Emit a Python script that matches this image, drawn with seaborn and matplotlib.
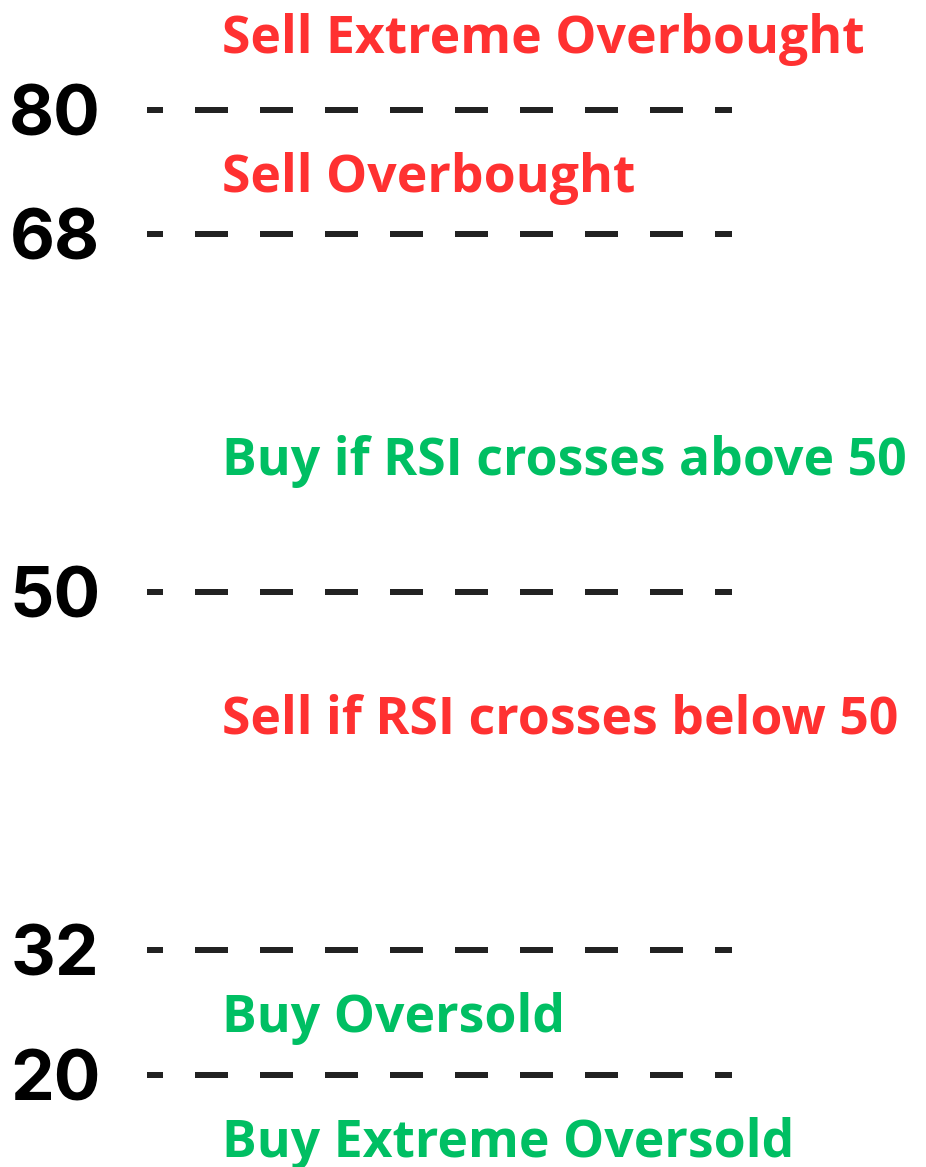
import numpy as np
import pandas as pd
import matplotlib
matplotlib.use("Agg")
import matplotlib.pyplot as plt
import seaborn as sns

# ---------------- data ----------------
LEVELS = [80, 68, 50, 32, 20]
TICK_LABELS = ["80", "68", "50", "32", "20"]

NOTE_TEXTS = [
    "Sell Extreme Overbought",
    "Sell Overbought",
    "Buy if RSI crosses above 50",
    "Sell if RSI crosses below 50",
    "Buy Oversold",
    "Buy Extreme Oversold",
]
NOTE_VALUES = [85.5, 72.0, 55.9, 42.9, 24.1, 12.1]
NOTE_KIND = ["sell", "sell", "buy", "sell", "buy", "buy"]

# ---------------- style / layout ----------------
RED = "#FF3131"
GREEN = "#00BF63"
LINE_COLOR = "#222222"
FONT = ["Open Sans", "DejaVu Sans"]
NUM_FONT = ["Inter", "Open Sans", "DejaVu Sans"]

W, H, DPI = 926, 1167, 100
PX = 72.0 / DPI  # points per pixel

# schematic (non-linear) vertical scale: level -> vertical position (fraction from top)
ANCHOR_POS = np.array([1075, 950, 592, 233.7, 109.7]) / H  # for 20, 32, 50, 68, 80
ANCHOR_VAL = np.array([20, 32, 50, 68, 80], dtype=float)


def _fwd(v):
    v = np.asarray(v, dtype=float)
    p = np.interp(v, ANCHOR_VAL, ANCHOR_POS)
    lo_s = (ANCHOR_POS[1] - ANCHOR_POS[0]) / (ANCHOR_VAL[1] - ANCHOR_VAL[0])
    hi_s = (ANCHOR_POS[-1] - ANCHOR_POS[-2]) / (ANCHOR_VAL[-1] - ANCHOR_VAL[-2])
    p = np.where(v < ANCHOR_VAL[0], ANCHOR_POS[0] + (v - ANCHOR_VAL[0]) * lo_s, p)
    p = np.where(v > ANCHOR_VAL[-1], ANCHOR_POS[-1] + (v - ANCHOR_VAL[-1]) * hi_s, p)
    return -p


def _inv(q):
    p = -np.asarray(q, dtype=float)
    rp = ANCHOR_POS[::-1]
    rv = ANCHOR_VAL[::-1]
    v = np.interp(p, rp, rv)
    lo_s = (ANCHOR_VAL[1] - ANCHOR_VAL[0]) / (ANCHOR_POS[1] - ANCHOR_POS[0])
    hi_s = (ANCHOR_VAL[-1] - ANCHOR_VAL[-2]) / (ANCHOR_POS[-1] - ANCHOR_POS[-2])
    v = np.where(p > ANCHOR_POS[0], ANCHOR_VAL[0] + (p - ANCHOR_POS[0]) * lo_s, v)
    v = np.where(p < ANCHOR_POS[-1], ANCHOR_VAL[-1] + (p - ANCHOR_POS[-1]) * hi_s, v)
    return v


sns.set_theme(style="white")
plt.rcParams["font.family"] = FONT
plt.rcParams["lines.scale_dashes"] = False

fig = plt.figure(figsize=(W / DPI, H / DPI), dpi=DPI, facecolor="white")
ax_left, ax_right = 147 / W, 732 / W
ax = fig.add_axes([ax_left, 0, ax_right - ax_left, 1])
ax.set_facecolor("white")

df = pd.DataFrame(
    {
        "x": np.tile([0.0, 1.0], len(LEVELS)),
        "level": np.repeat(LEVELS, 2),
    }
)

sns.lineplot(
    data=df, x="x", y="level", units="level", estimator=None, ax=ax,
    color=LINE_COLOR, linewidth=6 * PX,
    linestyle=(17 * PX, (33 * PX, 32 * PX)),
    solid_capstyle="butt", dash_capstyle="butt", clip_on=False,
)

ax.set_yscale("function", functions=(_fwd, _inv))
ax.set_ylim(float(_inv(-1.0)), float(_inv(0.0)))
ax.set_xlim(0, 1)

ax.set_yticks(LEVELS)
ax.set_yticklabels(TICK_LABELS)
ax.tick_params(axis="y", length=0, pad=(147 - 55) * PX, labelsize=50, labelcolor="black")
for t in ax.get_yticklabels():
    t.set_fontweight("bold")
    t.set_horizontalalignment("center")
    t.set_family(NUM_FONT)
ax.set_xticks([])
ax.set_xlabel("")
ax.set_ylabel("")
for s in ax.spines.values():
    s.set_visible(False)

note_x = (222 - 147) / (732 - 147)
for txt, val, kind in zip(NOTE_TEXTS, NOTE_VALUES, NOTE_KIND):
    ax.text(
        note_x, val, txt, transform=ax.get_yaxis_transform(),
        color=RED if kind == "sell" else GREEN,
        fontsize=37.3, fontweight="bold", family=FONT,
        ha="left", va="baseline", clip_on=False,
    )

fig.savefig("out.png", dpi=DPI, facecolor="white")
